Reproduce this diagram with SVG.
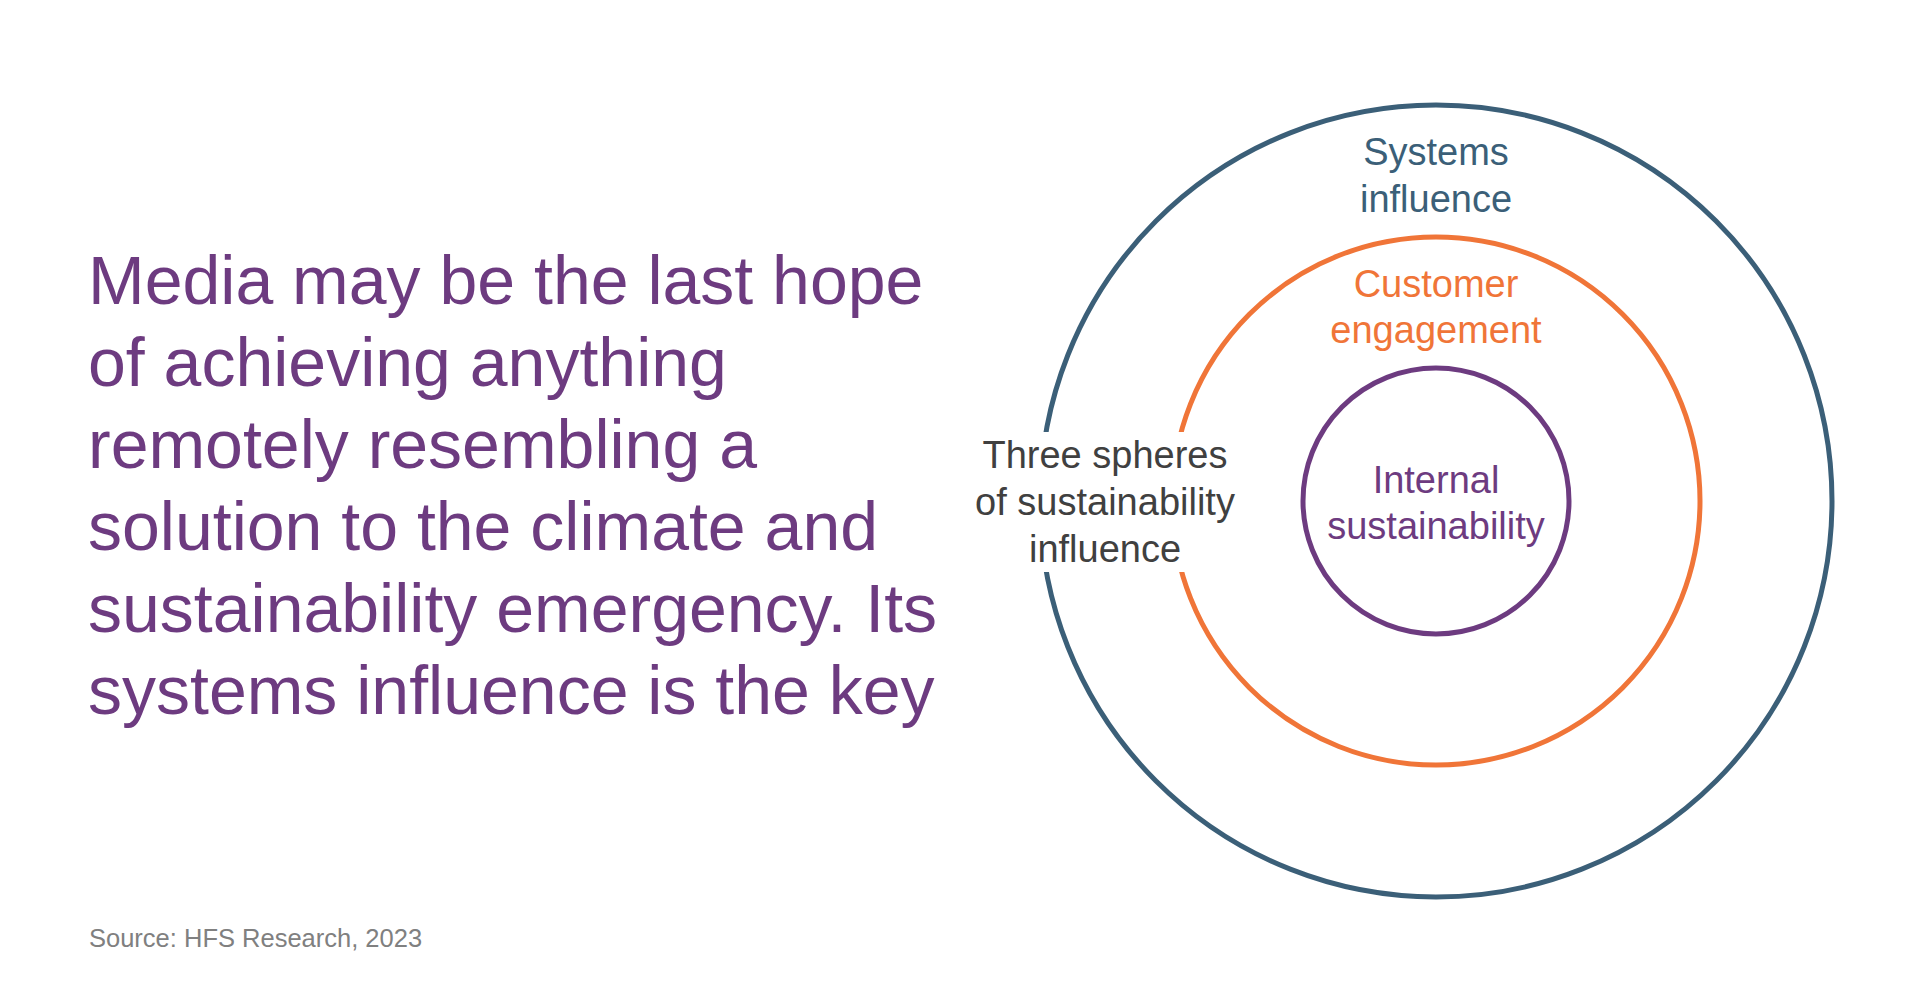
<svg xmlns="http://www.w3.org/2000/svg" width="1920" height="1003" viewBox="0 0 1920 1003">
  <style>
    .ring { fill: none; stroke-width: 5; }
    .lbl { font-family: "Liberation Sans", Arial, sans-serif; font-size: 38px; text-anchor: middle; }
    .head { font-family: "Liberation Sans", Arial, sans-serif; font-size: 68px; fill: #6D3B80; }
    .src { font-family: "Liberation Sans", Arial, sans-serif; font-size: 25.5px; fill: #808080; }
  </style>
  <rect x="0" y="0" width="1920" height="1003" fill="#FFFFFF"/>

  <g id="headline">
    <text class="head" x="88" y="304">Media may be the last hope</text>
    <text class="head" x="88" y="386">of achieving anything</text>
    <text class="head" x="88" y="468">remotely resembling a</text>
    <text class="head" x="88" y="550">solution to the climate and</text>
    <text class="head" x="88" y="632">sustainability emergency. Its</text>
    <text class="head" x="88" y="714">systems influence is the key</text>
  </g>

  <g id="source">
    <text class="src" x="89" y="947">Source: HFS Research, 2023</text>
  </g>

  <g id="systems-influence">
    <circle class="ring" cx="1436" cy="501" r="396" stroke="#3B5F78"/>
    <text class="lbl" fill="#3B5F78"><tspan x="1436" y="165">Systems</tspan><tspan x="1436" y="212">influence</tspan></text>
  </g>

  <g id="customer-engagement">
    <circle class="ring" cx="1436" cy="501" r="264" stroke="#F07538"/>
    <text class="lbl" fill="#F07538"><tspan x="1436" y="297">Customer</tspan><tspan x="1436" y="343">engagement</tspan></text>
  </g>

  <g id="internal-sustainability">
    <circle class="ring" cx="1436" cy="501" r="133" stroke="#6D3B80"/>
    <text class="lbl" fill="#6D3B80"><tspan x="1436" y="493">Internal</tspan><tspan x="1436" y="539">sustainability</tspan></text>
  </g>

  <g id="three-spheres-label">
    <rect x="968" y="432" width="274" height="140" fill="#FFFFFF"/>
    <text class="lbl" fill="#404040"><tspan x="1105" y="468">Three spheres</tspan><tspan x="1105" y="515">of sustainability</tspan><tspan x="1105" y="562">influence</tspan></text>
  </g>

  <g id="connectors"></g>
</svg>
